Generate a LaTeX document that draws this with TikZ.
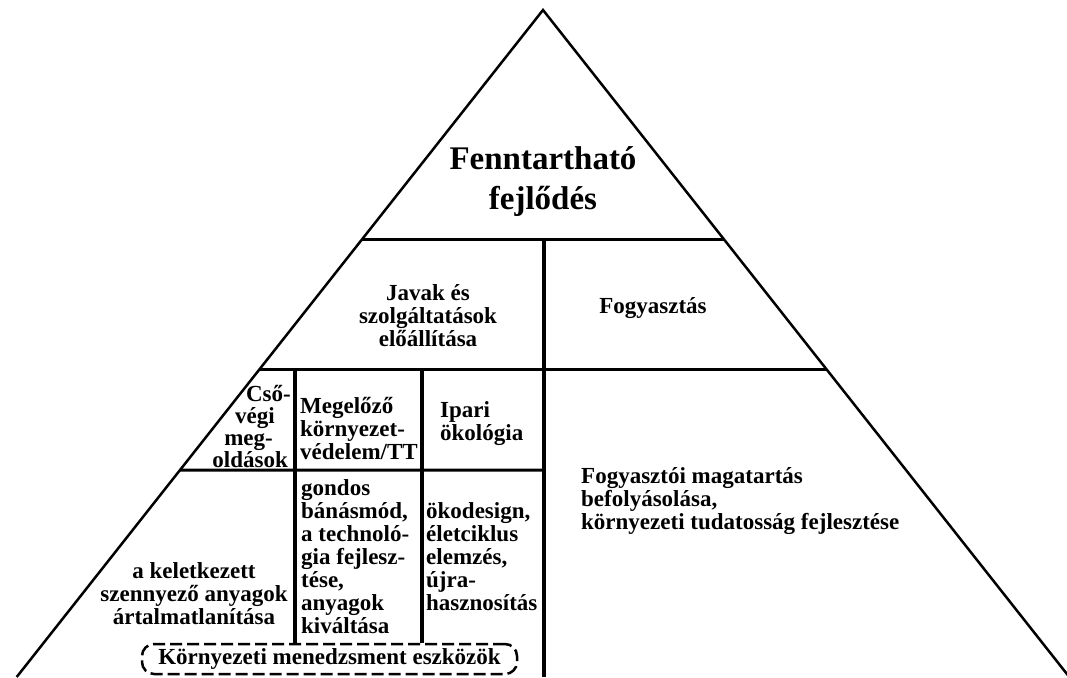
\documentclass[tikz,border=0pt]{standalone}
\usepackage{fontspec}
\setmainfont{Liberation Serif}
\usetikzlibrary{calc}
\begin{document}
\begin{tikzpicture}[x=1pt,y=-1pt,
  side/.style={line width=2.5pt},
  hline/.style={line width=3pt},
  vline/.style={line width=3.5pt},
  txt/.style={font=\fontsize{23}{23}\bfseries\selectfont, inner sep=0pt, align=center},
  ltxt/.style={txt, align=left, anchor=west},
  title/.style={font=\fontsize{33}{40}\bfseries\selectfont, inner sep=0pt, align=center},
  dbox/.style={draw, line width=2.5pt, dash pattern=on 12pt off 5pt, rounded corners=12pt,
    minimum width=375pt, minimum height=30pt, inner sep=0pt,
    font=\fontsize{23}{23}\bfseries\selectfont}
]
\useasboundingbox (0,0) rectangle (1067,677);
\clip (0,0) rectangle (1067,677);
\fill[white] (0,0) rectangle (1067,677);

% triangle
\coordinate (apex) at (543,10);
\coordinate (bl) at (16.7,677);
\coordinate (br) at (1069.3,677);
\draw[side, line join=miter] (bl) -- (apex) -- (br);

% edge points
\coordinate (l1) at ($(apex)!{230/667}!(bl)$);
\coordinate (r1) at ($(apex)!{230/667}!(br)$);
\coordinate (l2) at ($(apex)!{360/667}!(bl)$);
\coordinate (r2) at ($(apex)!{360/667}!(br)$);
\coordinate (l3) at ($(apex)!{460/667}!(bl)$);

\draw[hline] (l1) -- (r1);
\draw[hline] (l2) -- (r2);
\coordinate (m1) at (544,240);
\coordinate (m3) at (544,470);
\coordinate (mb) at (544,677);
\draw[hline] (l3) -- (m3);
\draw[vline] (m1) -- (mb);

% dashed box
\node[dbox] (box) at (329.5,659) {Környezeti menedzsment eszközök};

\coordinate (v1) at (295,370);
\coordinate (v2) at (422,370);
\draw[vline] (v1) -- (v1 |- box.north);
\draw[vline] (v2) -- (v2 |- box.north);

% texts
\node[title] (fd) at (543,182) {Fenntartható\\fejlődés};
\node[txt] (jav) at (428,316) {Javak és\\szolgáltatások\\előállítása};
\node[txt] (fog) at (653,308) {Fogyasztás};
\node[txt, align=right, anchor=east, font=\fontsize{23}{22}\bfseries\selectfont] (cso) at (291,426)
  {Cső-\\\mbox{végi\kern16pt}\\\mbox{meg-\kern18pt}\\\mbox{oldások\kern3pt}};
\node[ltxt] (meg) at (300,428) {Megelőző\\környezet-\\védelem/TT};
\node[ltxt] (ipa) at (440,424) {Ipari\\ökológia};
\node[txt] (kel) at (194,594) {a keletkezett\\szennyező anyagok\\ártalmatlanítása};
\node[ltxt] (gon) at (301,557) {gondos\\bánásmód,\\a technoló-\\gia fejlesz-\\tése,\\anyagok\\kiváltása};
\node[ltxt] (oko) at (426,557) {ökodesign,\\életciklus\\elemzés,\\újra-\\hasznosítás};
\node[ltxt] (fgy) at (581,501) {Fogyasztói magatartás\\befolyásolása,\\környezeti tudatosság fejlesztése};
\end{tikzpicture}
\end{document}
